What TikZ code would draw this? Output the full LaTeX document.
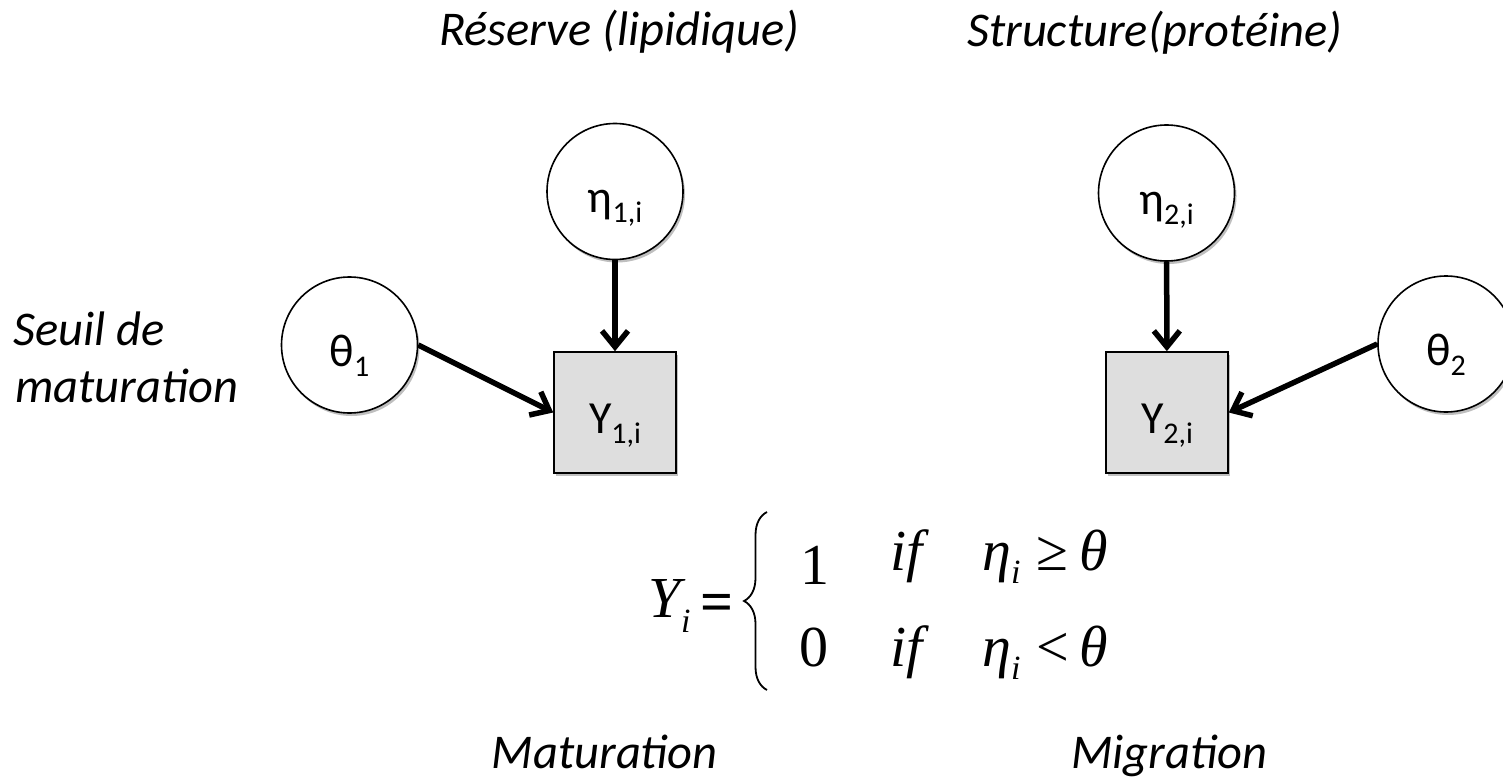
\documentclass[tikz,border=0pt]{standalone}
\usepackage{fontspec}
\setmainfont{Carlito}
\newfontfamily\eqfont{Liberation Serif}
\usetikzlibrary{arrows.meta,shadows,decorations.pathreplacing}
\definecolor{boxgray}{HTML}{DEDEDE}
\newcommand\varlab[2]{{\fontsize{46}{46}\selectfont #1}\raisebox{-10pt}{\fontsize{30}{30}\selectfont #2}}
\begin{document}
\begin{tikzpicture}[x=1pt,y=-1pt,
  shadowed/.style={drop shadow={shadow xshift=2pt,shadow yshift=-3pt,opacity=0.25,fill=black}},
  var/.style={circle,draw,line width=1.6pt,fill=white,minimum size=136pt,inner sep=0pt,
    text height=42pt,text depth=0pt,shadowed},
  obs/.style={rectangle,draw,line width=1.6pt,fill=boxgray,minimum width=122pt,minimum height=121pt,
    inner sep=0pt,text height=42pt,text depth=0pt,shadowed},
  edge/.style={line width=5.5pt,-{Straight Barb[length=16pt,width=26pt]}},
  lbl/.style={font=\fontsize{48.5}{57}\selectfont\itshape,inner sep=0pt},
  eq/.style={font=\eqfont\fontsize{58}{58}\selectfont,inner sep=0pt},
  eqi/.style={font=\eqfont\itshape\fontsize{58}{58}\selectfont,inner sep=0pt},
  eqs/.style={font=\eqfont\itshape\fontsize{34}{34}\selectfont,inner sep=0pt},
]
\useasboundingbox (0,0) rectangle (1503,778);
\clip (0,0) rectangle (1503,778);

% titles
\node[lbl,anchor=base west] (t1) at (439,46) {Réserve (lipidique)};
\node[lbl,anchor=base west] (t2) at (967,47) {Structure(protéine)};
\node[lbl,anchor=base west] (s1) at (13,345) {Seuil de};
\node[lbl,anchor=base west] (s2) at (15,402) {maturation};
\node[lbl,anchor=base east] (b1) at (718,768) {Maturation};
\node[lbl,anchor=base west] (b2) at (1071,768) {Migration};

% nodes
\node[var] (eta1) at (615,191.5) {\varlab{η}{1,i}};
\node[obs] (y1) at (615,412.5) {\varlab{Y}{1,i}};
\node[var] (th1) at (349.5,345) {\varlab{θ}{1}};
\node[var] (eta2) at (1166.5,193) {\varlab{η}{2,i}};
\node[obs] (y2) at (1167,412.5) {\varlab{Y}{2,i}};
\node[var] (th2) at (1446,344) {\varlab{θ}{2}};

% connectors
\draw[edge] (eta1) -- (y1);
\draw[edge] (th1.east) -- (y1.west);
\draw[edge] (eta2) -- (y2);
\draw[edge] (th2.west) -- (y2.east);

% equation
\node[eqi,anchor=base west] (eY) at (648,617) {Y};
\node[eqs,anchor=base west] (eYi) at (681,632) {i};
\node[eq,anchor=base,font=\eqfont\bfseries\fontsize{58}{58}\selectfont] (eeq) at (717,621) {=};
\draw[decorate,decoration={brace,amplitude=23pt},line width=1.8pt] (767,690) -- (767,512);
\node[eq,anchor=base west] (one) at (800,584) {1};
\node[eqi,anchor=base west] (if1) at (890,570) {if};
\node[eqi,anchor=base west] (et1) at (982,570) {η};
\node[eqs,anchor=base west] (et1i) at (1011,583) {i};
\node[eq,anchor=base west] (ge) at (1036,570) {≥};
\node[eqi,anchor=base west] (th1e) at (1079,570) {θ};
\node[eq,anchor=base west] (zero) at (799,666) {0};
\node[eqi,anchor=base west] (if2) at (890,666) {if};
\node[eqi,anchor=base west] (et2) at (982,666) {η};
\node[eqs,anchor=base west] (et2i) at (1011,679) {i};
\node[eq,anchor=base west] (lt) at (1036,666) {<};
\node[eqi,anchor=base west] (th2e) at (1079,666) {θ};
\end{tikzpicture}
\end{document}
